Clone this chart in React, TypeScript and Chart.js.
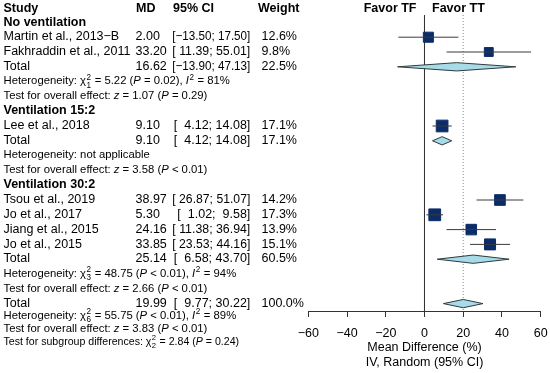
import React, { useEffect, useRef } from "react";
import { Chart, registerables } from "chart.js";

Chart.register(...registerables);

const FONT = '"Liberation Sans", Arial, Helvetica, sans-serif';

// ---------- data ----------
const groupNames = ["No ventilation", "Ventilation 15:2", "Ventilation 30:2"];

const studyLabels = [
  "Martin et al., 2013−B",
  "Fakhraddin et al., 2011",
  "Lee et al., 2018",
  "Tsou et al., 2019",
  "Jo et al., 2017",
  "Jiang et al., 2015",
  "Jo et al., 2015",
];
const studyGroup = [0, 0, 1, 2, 2, 2, 2];
const studyMD = [2.0, 33.2, 9.1, 38.97, 5.3, 24.16, 33.85];
const studyLower = [-13.5, 11.39, 4.12, 26.87, 1.02, 11.38, 23.53];
const studyUpper = [17.5, 55.01, 14.08, 51.07, 9.58, 36.94, 44.16];
const studyWeight = [12.6, 9.8, 17.1, 14.2, 17.3, 13.9, 15.1];

const groupMD = [16.62, 9.1, 25.14];
const groupLower = [-13.9, 4.12, 6.58];
const groupUpper = [47.13, 14.08, 43.7];
const groupWeight = [22.5, 17.1, 60.5];
const groupHetChi2 = ["5.22", "", "48.75"];
const groupHetDf = ["1", "", "3"];
const groupHetP = ["= 0.02", "", "< 0.01"];
const groupI2 = ["81%", "", "94%"];
const groupZ = ["1.07", "3.58", "2.66"];
const groupZP = ["= 0.29", "< 0.01", "< 0.01"];

const overallMD = 19.99;
const overallLower = 9.77;
const overallUpper = 30.22;
const overallWeight = 100.0;
const overallHet = { chi2: "55.75", df: "6", p: "< 0.01", i2: "89%" };
const overallTest = { z: "3.83", p: "< 0.01" };
const subgroupTest = { chi2: "2.84", df: "2", p: "= 0.24" };

const xTicks = [-60, -40, -20, 0, 20, 40, 60];
const columnHeaders = ["Study", "MD", "95% CI", "Weight"];
const favorLabels = ["Favor TF", "Favor TT"];
const axisTitle = ["Mean Difference (%)", "IV, Random (95% CI)"];

// ---------- helpers ----------
const minus = (s: string) => s.replace("-", "−");
const fmt2 = (v: number) => minus(v.toFixed(2));
const ciText = (lo: number, hi: number) =>
  `[${fmt2(lo).padStart(6, " ")}; ${fmt2(hi).padStart(5, " ")}]`;
const wText = (w: number) => `${w.toFixed(1)}%`;

type Seg = { t: string; st?: "i" | "ss" | "sup"; sub?: string };

const hetSegs = (chi2: string, df: string, p: string, i2: string): Seg[] => [
  { t: "Heterogeneity: χ" },
  { t: "2", st: "ss", sub: df },
  { t: ` = ${chi2} (` },
  { t: "P", st: "i" },
  { t: ` ${p}), ` },
  { t: "I", st: "i" },
  { t: "2", st: "sup" },
  { t: ` = ${i2}` },
];
const testSegs = (z: string, p: string): Seg[] => [
  { t: "Test for overall effect: " },
  { t: "z", st: "i" },
  { t: ` = ${z} (` },
  { t: "P", st: "i" },
  { t: ` ${p})` },
];
const subSegs = (): Seg[] => [
  { t: "Test for subgroup differences: χ" },
  { t: "2", st: "ss", sub: subgroupTest.df },
  { t: ` = ${subgroupTest.chi2} (` },
  { t: "P", st: "i" },
  { t: ` ${subgroupTest.p})` },
];

type Line = {
  kind: "header" | "group" | "study" | "total" | "het" | "test" | "overall" | "sub";
  row: number;
  idx: number;
};

function buildLines(): Line[] {
  const lines: Line[] = [{ kind: "header", row: 0, idx: -1 }];
  let r = 0;
  groupNames.forEach((_, g) => {
    r += 1;
    lines.push({ kind: "group", row: r, idx: g });
    studyGroup.forEach((sg, i) => {
      if (sg === g) {
        r += 1;
        lines.push({ kind: "study", row: r, idx: i });
      }
    });
    r += 1;
    lines.push({ kind: "total", row: r, idx: g });
    r += 1;
    lines.push({ kind: "het", row: r, idx: g });
    r += 1;
    lines.push({ kind: "test", row: r, idx: g });
  });
  r += 1;
  lines.push({ kind: "overall", row: r, idx: -1 });
  const step = 0.87;
  lines.push({ kind: "het", row: r + step, idx: -1 });
  lines.push({ kind: "test", row: r + 2 * step, idx: -1 });
  lines.push({ kind: "sub", row: r + 3 * step, idx: -1 });
  return lines;
}

const Y_MIN = 0.5;
const Y_MAX = 20.5;
const DIAMOND_H = 0.28;

function drawRich(ctx: CanvasRenderingContext2D, segs: Seg[], x: number, y: number, size: number) {
  let cx = x;
  for (const s of segs) {
    if (s.st === "ss" || s.st === "sup") {
      const ss = size * 0.72;
      ctx.font = `${ss}px ${FONT}`;
      const w1 = ctx.measureText(s.t).width;
      ctx.fillText(s.t, cx + 0.5, y - size * 0.42);
      let w2 = 0;
      if (s.sub) {
        w2 = ctx.measureText(s.sub).width;
        ctx.fillText(s.sub, cx + 0.5, y + size * 0.28);
      }
      cx += Math.max(w1, w2) + 1;
    } else {
      ctx.font = `${s.st === "i" ? "italic " : ""}${size}px ${FONT}`;
      ctx.fillText(s.t, cx, y);
      cx += ctx.measureText(s.t).width;
    }
  }
}

export default function App() {
  const ref = useRef<HTMLCanvasElement>(null);

  useEffect(() => {
    if (!ref.current) return;
    const lines = buildLines();

    const datasets: any[] = [];

    // CI whiskers (on top)
    lines
      .filter((l) => l.kind === "study")
      .forEach((l) => {
        datasets.push({
          data: [
            { x: studyLower[l.idx], y: l.row },
            { x: studyUpper[l.idx], y: l.row },
          ],
          showLine: true,
          borderColor: "#3a3a3a",
          borderWidth: 1,
          pointRadius: 0,
        });
      });

    // squares
    const studyLines = lines.filter((l) => l.kind === "study");
    datasets.push({
      data: studyLines.map((l) => ({ x: studyMD[l.idx], y: l.row })),
      pointStyle: "rect",
      pointRadius: (c: any) => 2.0 * Math.sqrt(studyWeight[studyLines[c.dataIndex].idx]),
      backgroundColor: "#0b2c69",
      borderColor: "#0b2c69",
      borderWidth: 1,
      showLine: false,
    });

    // diamonds
    lines
      .filter((l) => l.kind === "total" || l.kind === "overall")
      .forEach((l) => {
        const md = l.kind === "total" ? groupMD[l.idx] : overallMD;
        const lo = l.kind === "total" ? groupLower[l.idx] : overallLower;
        const hi = l.kind === "total" ? groupUpper[l.idx] : overallUpper;
        datasets.push({
          data: [
            { x: lo, y: l.row },
            { x: md, y: l.row - DIAMOND_H },
            { x: hi, y: l.row },
            { x: md, y: l.row + DIAMOND_H },
            { x: lo, y: l.row },
          ],
          showLine: true,
          fill: "shape",
          backgroundColor: "#a6dbe7",
          borderColor: "#2e3a3e",
          borderWidth: 1,
          pointRadius: 0,
          tension: 0,
        });
      });

    // reference lines
    datasets.push({
      data: [
        { x: overallMD, y: Y_MIN },
        { x: overallMD, y: Y_MAX },
      ],
      showLine: true,
      borderColor: "#8a8a8a",
      borderWidth: 1,
      borderDash: [1, 2],
      pointRadius: 0,
    });
    datasets.push({
      data: [
        { x: 0, y: Y_MIN },
        { x: 0, y: Y_MAX },
      ],
      showLine: true,
      borderColor: "#333333",
      borderWidth: 1,
      pointRadius: 0,
    });

    const textPlugin = {
      id: "forestText",
      afterDraw(chart: any) {
        const ctx: CanvasRenderingContext2D = chart.ctx;
        const yS = chart.scales.y;
        const xS = chart.scales.x;
        const big = 12.5;
        const small = 11.3;
        const subSize = 10.6;
        const center = (row: number) => yS.getPixelForValue(row) - 1.3;
        const baseBig = (row: number) => center(row) + big * 0.358;
        const baseSmall = (row: number, s = small) => center(row) + s * 0.358;
        const STUDY_X = 3.5;
        const MD_X = 135.5;
        const CI_R = 250.3;
        const CI_MAXW = 78;
        const W_X = 261.5;
        ctx.save();
        ctx.fillStyle = "#000";
        ctx.textBaseline = "alphabetic";
        const txt = (s: string, x: number, y: number, align: CanvasTextAlign, bold = false, size = big, maxW?: number) => {
          ctx.font = `${bold ? "bold " : ""}${size}px ${FONT}`;
          ctx.textAlign = align;
          if (maxW) ctx.fillText(s, x, y, maxW);
          else ctx.fillText(s, x, y);
        };
        for (const l of lines) {
          if (l.kind === "header") {
            const y = baseBig(l.row) + 1.6;
            txt(columnHeaders[0], STUDY_X, y, "left", true);
            txt(columnHeaders[1], MD_X + 0.5, y, "left", true);
            txt(columnHeaders[2], 173, y, "left", true);
            txt(columnHeaders[3], 258, y, "left", true);
            const zx = xS.getPixelForValue(0);
            txt(favorLabels[0], zx - 8, y, "right", true);
            txt(favorLabels[1], zx + 7.5, y, "left", true);
          } else if (l.kind === "group") {
            txt(groupNames[l.idx], STUDY_X, baseBig(l.row), "left", true);
          } else if (l.kind === "study") {
            const y = baseBig(l.row);
            const i = l.idx;
            txt(studyLabels[i], STUDY_X, y, "left");
            txt(fmt2(studyMD[i]), MD_X, y, "left");
            txt(ciText(studyLower[i], studyUpper[i]), CI_R, y, "right", false, big, CI_MAXW);
            txt(wText(studyWeight[i]), W_X, y, "left");
          } else if (l.kind === "total" || l.kind === "overall") {
            const y = baseBig(l.row);
            const g = l.idx;
            const ov = l.kind === "overall";
            txt("Total", STUDY_X, y, "left");
            txt(fmt2(ov ? overallMD : groupMD[g]), MD_X, y, "left");
            txt(
              ciText(ov ? overallLower : groupLower[g], ov ? overallUpper : groupUpper[g]),
              CI_R,
              y,
              "right",
              false,
              big,
              CI_MAXW
            );
            txt(wText(ov ? overallWeight : groupWeight[g]), W_X, y, "left");
          } else if (l.kind === "het") {
            ctx.textAlign = "left";
            const y = baseSmall(l.row);
            if (l.idx >= 0 && groupHetChi2[l.idx] === "") {
              txt("Heterogeneity: not applicable", STUDY_X, y, "left", false, small);
            } else {
              const segs =
                l.idx >= 0
                  ? hetSegs(groupHetChi2[l.idx], groupHetDf[l.idx], groupHetP[l.idx], groupI2[l.idx])
                  : hetSegs(overallHet.chi2, overallHet.df, overallHet.p, overallHet.i2);
              drawRich(ctx, segs, STUDY_X, y, small);
            }
          } else if (l.kind === "test") {
            ctx.textAlign = "left";
            const y = baseSmall(l.row);
            const segs = l.idx >= 0 ? testSegs(groupZ[l.idx], groupZP[l.idx]) : testSegs(overallTest.z, overallTest.p);
            drawRich(ctx, segs, STUDY_X, y, small);
          } else if (l.kind === "sub") {
            ctx.textAlign = "left";
            drawRich(ctx, subSegs(), STUDY_X, baseSmall(l.row, subSize), subSize);
          }
        }
        ctx.restore();
      },
    };

    const chart = new Chart(ref.current, {
      type: "scatter",
      data: { datasets },
      options: {
        animation: false,
        responsive: false,
        devicePixelRatio: 1,
        events: [],
        layout: { padding: { left: 308.3, right: 9.3, top: 15, bottom: 0 } },
        plugins: {
          legend: { display: false },
          tooltip: { enabled: false },
          title: { display: false },
        },
        scales: {
          x: {
            type: "linear",
            min: xTicks[0],
            max: xTicks[xTicks.length - 1],
            afterBuildTicks: (s: any) => {
              s.ticks = xTicks.map((v) => ({ value: v }));
            },
            afterFit: (s: any) => {
              s.height = 62;
              s.paddingLeft = 0;
              s.paddingRight = 0;
            },
            ticks: {
              callback: (v: any) => (Number(v) < 0 ? "−" + Math.abs(Number(v)) : String(v)),
              font: { family: FONT, size: 12.5, lineHeight: 1.2 },
              color: "#000",
              padding: 9.5,
              maxRotation: 0,
              autoSkip: false,
            },
            grid: {
              drawOnChartArea: false,
              drawTicks: true,
              tickLength: 6,
              color: "#333",
            },
            border: { display: true, color: "#333", width: 1 },
            title: {
              display: true,
              text: axisTitle,
              font: { family: FONT, size: 12.5, lineHeight: 1.2 },
              color: "#000",
              padding: { top: 0, bottom: 2.5 },
            },
          },
          y: {
            type: "linear",
            display: false,
            min: Y_MIN,
            max: Y_MAX,
            reverse: true,
          },
        },
      } as any,
      plugins: [textPlugin],
    });
    return () => chart.destroy();
  }, []);

  return (
    <div style={{ position: "fixed", left: 0, top: 0, width: 550, height: 373, background: "#fff" }}>
      <canvas ref={ref} width={550} height={373} style={{ display: "block" }} />
    </div>
  );
}
